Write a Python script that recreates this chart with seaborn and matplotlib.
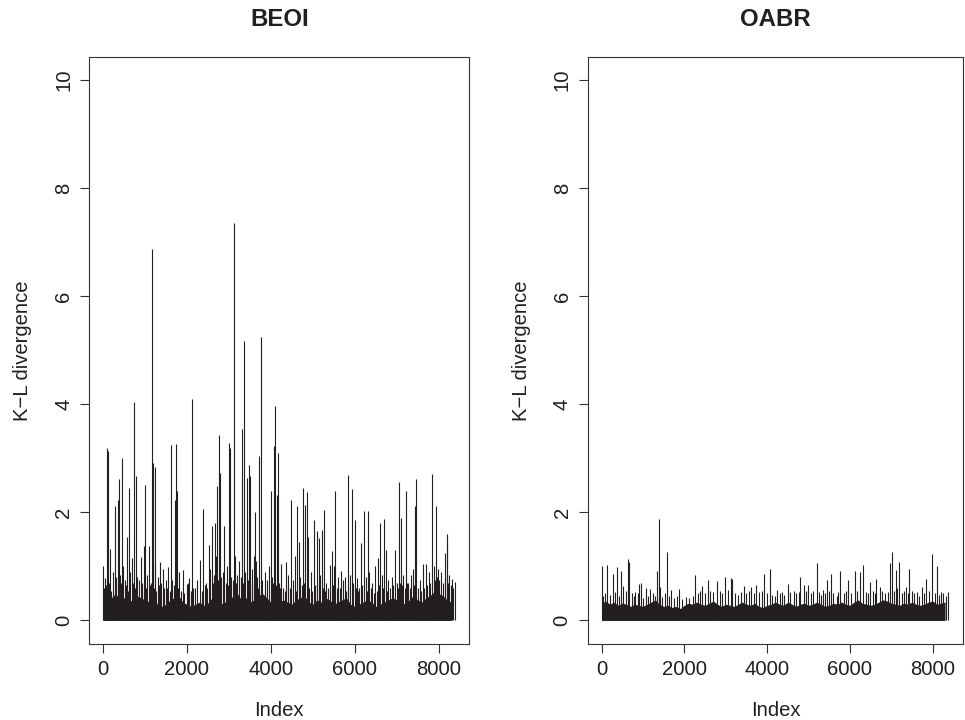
import numpy as np
import matplotlib
matplotlib.use("Agg")
import matplotlib.pyplot as plt
import seaborn as sns

# ---- data ----
# tall spikes: index and K-L divergence
beoi_idx = [0, 46, 60, 93, 126, 174, 230, 276, 320, 355, 371, 410, 459, 480, 520, 578, 626, 650,
            690, 735, 776, 820, 895, 940, 974, 1007, 1050, 1085, 1120, 1164, 1188, 1228, 1250, 1300,
            1347, 1380, 1420, 1490, 1530, 1560, 1625, 1650, 1704, 1728, 1768, 1820, 1860, 1900, 1990,
            2030, 2060, 2125, 2200, 2250, 2300, 2394, 2450, 2520, 2560, 2592, 2640, 2672, 2700, 2720,
            2768, 2792, 2860, 2894, 2950, 3005, 3029, 3060, 3124, 3150, 3200, 3250, 3315, 3350, 3380,
            3425, 3473, 3513, 3560, 3590, 3616, 3650, 3680, 3720, 3770, 3850, 3900, 3950, 3996, 4030,
            4068, 4101, 4150, 4172, 4200, 4250, 4300, 4360, 4420, 4481, 4540, 4580, 4624, 4660, 4700,
            4767, 4820, 4862, 4890, 4950, 5020, 5050, 5090, 5140, 5170, 5210, 5274, 5320, 5400, 5450,
            5500, 5536, 5570, 5610, 5680, 5720, 5760, 5829, 5880, 5924, 5960, 5996, 6050, 6100, 6150,
            6210, 6260, 6314, 6350, 6420, 6480, 6550, 6599, 6640, 6702, 6740, 6800, 6880, 6960, 7000,
            7059, 7107, 7160, 7226, 7280, 7330, 7380, 7430, 7471, 7550, 7630, 7700, 7760, 7844, 7880,
            7932, 7990, 8060, 8140, 8194, 8210, 8250, 8330, 8380]
beoi_kl = [1.00, 0.79, 0.65, 3.20, 3.13, 1.32, 0.90, 2.11, 0.70, 2.23, 2.61, 0.85, 3.01, 1.01, 0.75, 1.55, 2.46, 0.90,
           1.15, 4.04, 2.68, 0.80, 1.18, 0.70, 1.38, 2.50, 0.85, 1.38, 0.65, 6.88, 2.91, 2.84, 1.00, 0.80,
           1.09, 0.70, 0.95, 0.74, 0.60, 0.98, 3.25, 0.75, 2.23, 3.27, 2.39, 0.90, 0.55, 0.94, 0.68,
           0.69, 0.78, 4.10, 0.60, 0.75, 1.11, 2.06, 0.70, 1.39, 0.95, 1.75, 0.85, 1.80, 1.20, 2.48,
           3.43, 2.73, 0.90, 1.74, 1.00, 3.28, 3.19, 0.80, 7.35, 1.19, 0.85, 1.10, 3.54, 5.18, 0.90,
           2.63, 2.88, 2.68, 0.95, 1.20, 2.00, 1.10, 0.80, 3.05, 5.24, 0.90, 0.75, 1.00, 2.39, 0.80,
           3.22, 3.97, 2.32, 3.10, 0.70, 1.05, 0.60, 1.09, 0.85, 2.23, 0.75, 1.19, 2.12, 1.45, 0.80,
           2.45, 2.14, 2.37, 1.54, 0.90, 1.86, 0.65, 1.66, 1.53, 0.85, 1.68, 2.05, 0.70, 1.03, 1.29,
           1.00, 2.40, 0.60, 0.81, 0.92, 0.75, 0.81, 2.69, 0.85, 2.44, 0.70, 1.86, 0.78, 0.60, 1.44,
           2.03, 0.80, 2.02, 0.90, 0.70, 1.00, 1.15, 1.80, 0.85, 1.87, 1.31, 0.75, 0.80, 1.31, 0.70,
           2.57, 1.89, 0.85, 2.40, 0.70, 0.85, 0.95, 2.12, 2.62, 0.75, 1.05, 1.04, 0.90, 2.71, 1.00,
           2.11, 0.95, 0.90, 1.24, 1.60, 1.50, 0.85, 0.76, 0.72]

# smaller spikes just above the dense band
beoi_mid_idx = [20, 150, 200, 300, 390, 440, 550, 600, 710, 760, 860, 920, 1030, 1140, 1210, 1270,
                1330, 1450, 1600, 1680, 1740, 1790, 1940, 2100, 2150, 2350, 2420, 2480, 2610, 2740,
                2820, 2920, 2980, 3090, 3170, 3280, 3330, 3450, 3500, 3540, 3700, 3800, 3870, 4050,
                4120, 4230, 4330, 4400, 4460, 4600, 4740, 4790, 4920, 4980, 5110, 5240, 5290, 5360,
                5420, 5480, 5640, 5790, 5850, 6020, 6080, 6180, 6290, 6380, 6450, 6520, 6580, 6680,
                6760, 6840, 6920, 7030, 7080, 7130, 7200, 7250, 7310, 7410, 7500, 7590, 7660, 7730,
                7800, 7910, 7960, 8020, 8100, 8160, 8230, 8290, 8350]
beoi_mid_kl = [0.60, 0.70, 0.55, 0.80, 0.60, 0.70, 0.65, 0.55, 0.70, 0.60, 0.75, 0.55, 0.60, 0.70, 0.60, 0.55,
               0.65, 0.60, 0.55, 0.65, 0.70, 0.60, 0.50, 0.55, 0.60, 0.55, 0.65, 0.60, 0.70, 0.75,
               0.80, 0.70, 0.65, 0.75, 0.70, 0.80, 0.70, 0.75, 0.65, 0.70, 0.60, 0.75, 0.65, 0.70,
               0.65, 0.60, 0.55, 0.65, 0.60, 0.55, 0.65, 0.70, 0.60, 0.55, 0.65, 0.60, 0.55, 0.60,
               0.55, 0.65, 0.60, 0.55, 0.65, 0.60, 0.55, 0.65, 0.55, 0.60, 0.50, 0.55, 0.65, 0.60,
               0.55, 0.60, 0.65, 0.60, 0.70, 0.65, 0.60, 0.70, 0.60, 0.65, 0.60, 0.55, 0.60, 0.65,
               0.70, 0.75, 0.80, 0.75, 0.70, 0.80, 0.70, 0.65, 0.60]

oabr_idx = [0, 138, 274, 369, 480, 520, 631, 671, 820, 910, 950, 1070, 1180, 1345, 1385, 1420, 1590,
            1680, 1880, 2265, 2430, 2566, 2790, 2980, 3120, 3160, 3430, 3620, 3720, 3931, 4066, 4230,
            4360, 4500, 4804, 4880, 4980, 5200, 5350, 5450, 5534, 5772, 5950, 6113, 6240, 6311, 6480,
            6640, 6720, 6978, 7026, 7110, 7199, 7350, 7437, 7610, 7750, 7850, 7977, 8111, 8190, 8370]
oabr_kl = [1.01, 1.03, 0.86, 0.98, 0.92, 0.64, 1.14, 1.09, 0.53, 0.67, 0.69, 0.60, 0.59, 0.92, 1.88, 0.61, 1.26,
           0.56, 0.58, 0.84, 0.64, 0.75, 0.73, 0.81, 0.78, 0.76, 0.64, 0.61, 0.65, 0.86, 0.95, 0.56,
           0.53, 0.68, 0.80, 0.65, 0.65, 1.06, 0.56, 0.74, 0.86, 0.92, 0.74, 0.92, 0.90, 1.02, 0.72,
           0.76, 0.62, 1.07, 1.27, 0.94, 1.09, 0.61, 0.95, 0.52, 0.61, 0.76, 1.23, 1.01, 0.52, 0.52]

oabr_mid_idx = [40, 90, 200, 320, 420, 580, 740, 780, 870, 1000, 1120, 1250, 1300, 1470, 1530, 1620,
                1750, 1820, 1950, 2050, 2120, 2200, 2330, 2380, 2500, 2620, 2700, 2850, 2920, 3050,
                3230, 3300, 3370, 3500, 3560, 3680, 3800, 3870, 4000, 4130, 4180, 4300, 4420, 4560,
                4640, 4700, 4760, 4930, 5050, 5120, 5260, 5300, 5400, 5500, 5600, 5680, 5720, 5850,
                5900, 6030, 6180, 6380, 6430, 6560, 6600, 6780, 6850, 6920, 7060, 7150, 7250, 7300,
                7400, 7500, 7560, 7680, 7800, 7920, 8050, 8150, 8250, 8320]
oabr_mid_kl = [0.45, 0.50, 0.48, 0.52, 0.45, 0.55, 0.50, 0.45, 0.50, 0.42, 0.45, 0.50, 0.46, 0.44, 0.50, 0.46,
               0.42, 0.45, 0.40, 0.44, 0.42, 0.46, 0.50, 0.55, 0.50, 0.55, 0.52, 0.55, 0.50, 0.56,
               0.50, 0.48, 0.52, 0.50, 0.55, 0.50, 0.52, 0.55, 0.50, 0.48, 0.45, 0.50, 0.48, 0.52,
               0.55, 0.50, 0.52, 0.55, 0.50, 0.55, 0.52, 0.48, 0.50, 0.55, 0.50, 0.45, 0.52, 0.50,
               0.55, 0.50, 0.55, 0.52, 0.50, 0.55, 0.50, 0.55, 0.50, 0.52, 0.55, 0.60, 0.50, 0.55,
               0.50, 0.55, 0.50, 0.45, 0.50, 0.55, 0.50, 0.48, 0.50, 0.45]

# dense lower band, one height per 100 indices
band_idx = list(range(0, 8400, 100))
beoi_band = [0.40, 0.45, 0.42, 0.50, 0.38, 0.42, 0.34, 0.38, 0.46, 0.42,
             0.38, 0.34, 0.42, 0.30, 0.26, 0.30, 0.38, 0.42, 0.46, 0.34,
             0.30, 0.26, 0.30, 0.34, 0.28, 0.32, 0.42, 0.38, 0.30, 0.34,
             0.36, 0.46, 0.50, 0.38, 0.42, 0.34, 0.38, 0.46, 0.50, 0.42,
             0.34, 0.30, 0.34, 0.38, 0.34, 0.30, 0.38, 0.42, 0.46, 0.34,
             0.30, 0.38, 0.34, 0.42, 0.38, 0.30, 0.34, 0.38, 0.42, 0.30,
             0.26, 0.30, 0.34, 0.38, 0.34, 0.26, 0.30, 0.34, 0.38, 0.42,
             0.38, 0.34, 0.30, 0.38, 0.46, 0.38, 0.34, 0.42, 0.46, 0.54,
             0.50, 0.46, 0.38, 0.34]
oabr_band = [0.32, 0.36, 0.30, 0.34, 0.28, 0.32, 0.30, 0.26, 0.30, 0.28,
             0.26, 0.30, 0.34, 0.38, 0.30, 0.26, 0.28, 0.24, 0.26, 0.22,
             0.28, 0.32, 0.30, 0.34, 0.30, 0.28, 0.32, 0.36, 0.30, 0.26,
             0.30, 0.28, 0.26, 0.30, 0.34, 0.30, 0.28, 0.32, 0.26, 0.24,
             0.28, 0.30, 0.34, 0.30, 0.28, 0.34, 0.30, 0.26, 0.30, 0.32,
             0.28, 0.30, 0.34, 0.30, 0.26, 0.28, 0.32, 0.30, 0.34, 0.30,
             0.28, 0.34, 0.38, 0.32, 0.30, 0.28, 0.30, 0.34, 0.38, 0.36,
             0.32, 0.30, 0.28, 0.32, 0.30, 0.34, 0.30, 0.28, 0.30, 0.34,
             0.36, 0.30, 0.32, 0.34]

panels = [("BEOI", beoi_idx, beoi_kl, beoi_mid_idx, beoi_mid_kl, beoi_band),
          ("OABR", oabr_idx, oabr_kl, oabr_mid_idx, oabr_mid_kl, oabr_band)]

sns.set_theme(style="ticks")
plt.rcParams["font.family"] = ["Liberation Sans", "DejaVu Sans"]
plt.rcParams["axes.edgecolor"] = "#333333"

ink = "#231f20"
fig = plt.figure(figsize=(9.65, 7.2), dpi=100)
rects = [[0.0922, 0.106, 0.3943, 0.815], [0.609, 0.106, 0.389, 0.815]]

for rect, (name, idx, kl, midx, mkl, band) in zip(rects, panels):
    ax = fig.add_axes(rect)
    ax.fill_between(band_idx, 0, band, color=ink, lw=0)
    ax.vlines(midx, 0, mkl, color=ink, lw=0.8)
    ax.vlines(idx, 0, kl, color=ink, lw=0.8)
    ax.set_xlim(-335, 8735)
    ax.set_ylim(-0.43, 10.43)
    ax.set_xticks([0, 2000, 4000, 6000, 8000])
    ax.set_yticks([0, 2, 4, 6, 8, 10])
    ax.tick_params(labelsize=14.6, length=6.5, width=0.8, pad=5, colors="#333333",
                   labelcolor=ink)
    for lab in ax.get_yticklabels():
        lab.set_rotation(90)
        lab.set_va("center")
    for sp in ax.spines.values():
        sp.set_linewidth(0.8)
    ax.set_title(name, fontsize=17.3, fontweight="bold", pad=22, color=ink)
    ax.set_xlabel("Index", fontsize=14.6, color=ink)
    ax.set_ylabel("K\u2212L divergence", fontsize=14.6, color=ink)
    ax.xaxis.set_label_coords(0.5, -0.098)
    ax.yaxis.set_label_coords(-0.15, 0.5)

fig.savefig("out.png", dpi=100, facecolor="white")
